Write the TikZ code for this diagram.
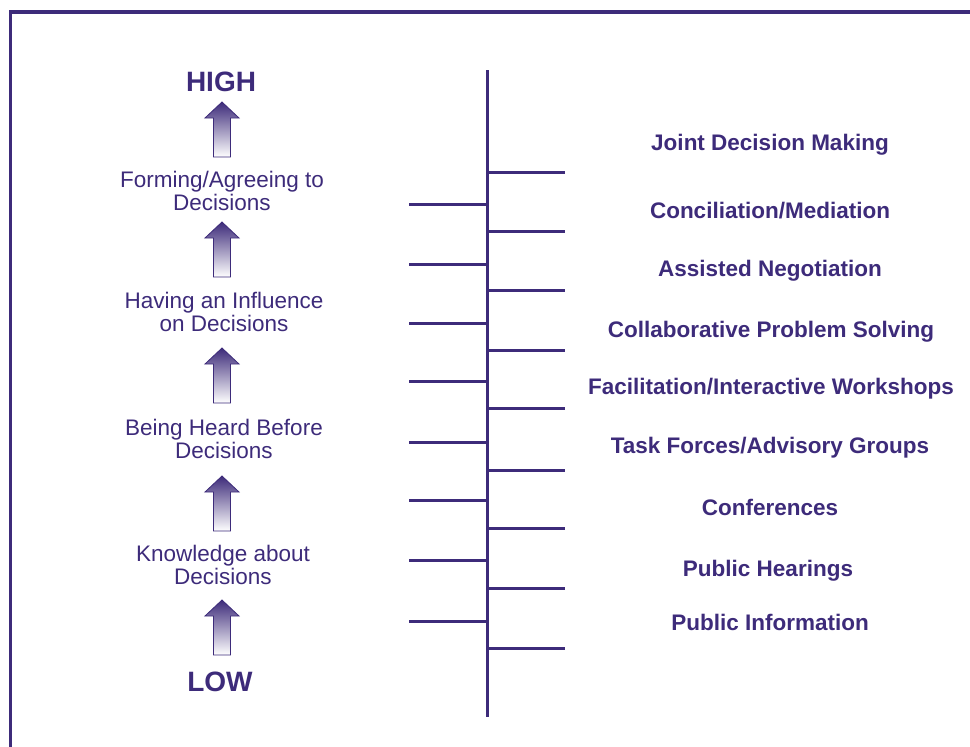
\documentclass[tikz,border=0pt]{standalone}
\usepackage{fontspec}
\setmainfont{Liberation Sans}
\definecolor{ink}{HTML}{3D2B7A}
\begin{document}
\begin{tikzpicture}[x=1pt,y=-1pt,
  rung/.style={draw=ink, line width=3pt},
  method/.style={font=\fontsize{22.5}{26}\selectfont\bfseries, text=ink, anchor=base, inner sep=0pt},
  level/.style={font=\fontsize{22.5}{23}\selectfont, text=ink, align=center, inner sep=0pt},
  extreme/.style={font=\fontsize{28}{30}\selectfont\bfseries, text=ink, inner sep=0pt},
  risearrow/.style={draw=ink, line width=0.8pt, top color=ink, bottom color=white}]
\useasboundingbox (0,0) rectangle (970,747);

% frame (top and left edges)
\draw[ink, line width=3.5pt] (10.3,747) -- (10.3,12) -- (970,12);

% spine with alternating rungs
\coordinate (spineTop) at (487,70);
\coordinate (spineBot) at (487,717);
\draw[rung] (spineTop) -- (spineBot);
\foreach \y in {172,231,290,350,408,470,528,588,648}
  \draw[rung] (487,\y) -- (565,\y);
\foreach \y in {204,264,323,381,442,500,560,621}
  \draw[rung] (409,\y) -- (487,\y);

% participation methods
\node[method] (m1) at (770,150) {Joint Decision Making};
\node[method] (m2) at (770,218) {Conciliation/Mediation};
\node[method] (m3) at (770,276) {Assisted Negotiation};
\node[method] (m4) at (771,337) {Collaborative Problem Solving};
\node[method] (m5) at (771,394) {Facilitation/Interactive Workshops};
\node[method] (m6) at (770,453) {Task Forces/Advisory Groups};
\node[method] (m7) at (770,515) {Conferences};
\node[method] (m8) at (768,576) {Public Hearings};
\node[method] (m9) at (770,630) {Public Information};

% levels of influence
\node[extreme] (high) at (221,82) {HIGH};
\node[extreme] (low) at (220,682) {LOW};
\node[level] (l1) at (222,191) {Forming/Agreeing to\\Decisions};
\node[level] (l2) at (224,311.5) {Having an Influence\\on Decisions};
\node[level] (l3) at (224,439) {Being Heard Before\\Decisions};
\node[level] (l4) at (223,564.5) {Knowledge about\\Decisions};

% shaded upward arrows
\foreach \t in {102,222,348,476,600}
  \path[risearrow] (213.5,\t+55) -- (213.5,\t+16) -- (205,\t+16) -- (222,\t)
    -- (239,\t+16) -- (230.5,\t+16) -- (230.5,\t+55) -- cycle;
\end{tikzpicture}
\end{document}
